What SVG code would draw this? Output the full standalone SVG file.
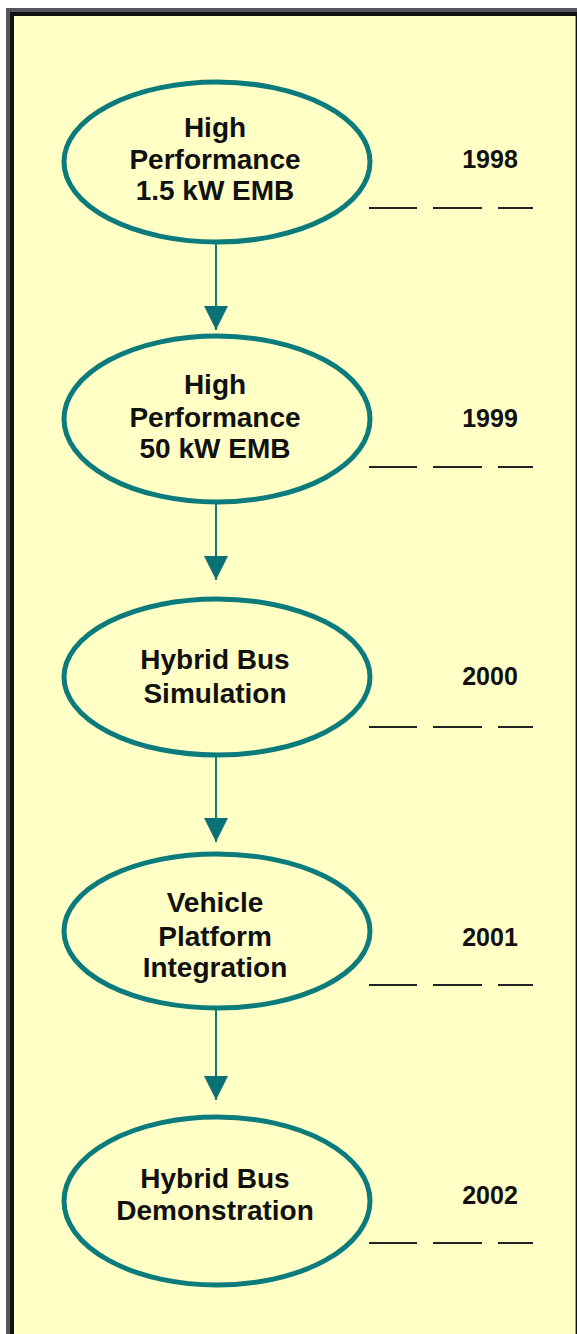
<svg xmlns="http://www.w3.org/2000/svg" width="577" height="1334" viewBox="0 0 577 1334">
<defs>
<style>
.node ellipse{fill:none;stroke:#0b7b7c;stroke-width:5}
.label{font-family:"Liberation Sans",Arial,sans-serif;font-weight:bold;font-size:28px;fill:#111;text-anchor:middle}
.year{font-family:"Liberation Sans",Arial,sans-serif;font-weight:bold;font-size:25px;fill:#111;text-anchor:middle}
.dash{stroke:#222;stroke-width:2}
.conn line{stroke:#0b7b7c;stroke-width:2;marker-end:url(#arrow)}
</style>
<marker id="arrow" markerUnits="userSpaceOnUse" markerWidth="24" markerHeight="24" refX="24" refY="12" orient="auto">
<path d="M0,0 L24,12 L0,24 z" fill="#0a7274"/>
</marker>
</defs>
<rect x="0" y="0" width="577" height="1334" fill="#ffffff"/>
<rect x="6" y="8" width="571" height="1326" fill="#55555f"/>
<rect x="10" y="12" width="567" height="1322" fill="#111111"/>
<rect x="14" y="16" width="561" height="1318" fill="#ffffc6"/>
<rect x="575" y="16" width="1" height="1318" fill="#9a9a90"/>

<g id="connectors" class="conn">
<line x1="216" y1="244" x2="216" y2="330"/>
<line x1="216" y1="503" x2="216" y2="580"/>
<line x1="216" y1="757" x2="216" y2="842"/>
<line x1="216" y1="1010" x2="216" y2="1100"/>
</g>

<g id="node1" class="node">
<ellipse cx="217" cy="162" rx="153" ry="80"/>
<text class="label" x="215" y="137">High</text>
<text class="label" x="215" y="169">Performance</text>
<text class="label" x="215" y="200">1.5 kW EMB</text>
</g>
<g id="node2" class="node">
<ellipse cx="217" cy="419" rx="153" ry="83"/>
<text class="label" x="215" y="394">High</text>
<text class="label" x="215" y="427">Performance</text>
<text class="label" x="215" y="458">50 kW EMB</text>
</g>
<g id="node3" class="node">
<ellipse cx="217" cy="677" rx="153" ry="78"/>
<text class="label" x="215" y="669">Hybrid Bus</text>
<text class="label" x="215" y="703">Simulation</text>
</g>
<g id="node4" class="node">
<ellipse cx="217" cy="931" rx="153" ry="77"/>
<text class="label" x="215" y="912">Vehicle</text>
<text class="label" x="215" y="946">Platform</text>
<text class="label" x="215" y="977">Integration</text>
</g>
<g id="node5" class="node">
<ellipse cx="217" cy="1201" rx="153" ry="84"/>
<text class="label" x="215" y="1188">Hybrid Bus</text>
<text class="label" x="215" y="1220">Demonstration</text>
</g>

<g id="year1998">
<text class="year" x="490" y="168">1998</text>
<path class="dash" d="M369,208H417M433,208H482M498,208H533"/>
</g>
<g id="year1999">
<text class="year" x="490" y="427">1999</text>
<path class="dash" d="M369,467H417M433,467H482M498,467H533"/>
</g>
<g id="year2000">
<text class="year" x="490" y="685">2000</text>
<path class="dash" d="M369,727H417M433,727H482M498,727H533"/>
</g>
<g id="year2001">
<text class="year" x="490" y="946">2001</text>
<path class="dash" d="M369,985H417M433,985H482M498,985H533"/>
</g>
<g id="year2002">
<text class="year" x="490" y="1204">2002</text>
<path class="dash" d="M369,1243H417M433,1243H482M498,1243H533"/>
</g>
</svg>
